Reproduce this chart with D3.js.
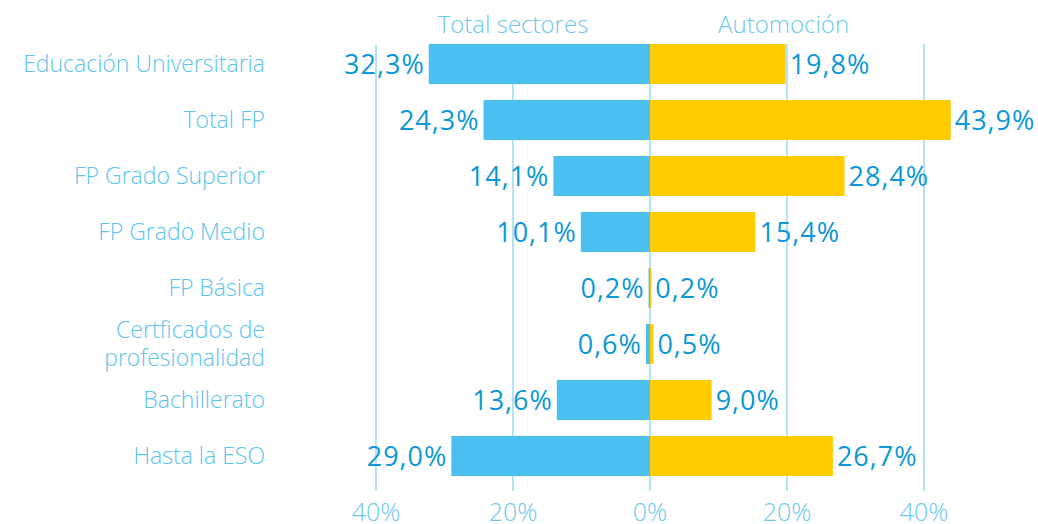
<!DOCTYPE html>
<html>
<head>
<meta charset="utf-8">
<script src="https://cdn.jsdelivr.net/npm/d3@7"></script>
<style>
  body { margin: 0; background: #fff; }
  svg { display: block; font-family: "Open Sans", "Noto Sans", sans-serif; }
</style>
</head>
<body>
<svg id="chart" width="1038" height="524"></svg>
<script>
var categories = ["Educación Universitaria", "Total FP", "FP Grado Superior", "FP Grado Medio",
    "FP Básica", "Certficados de\nprofesionalidad", "Bachillerato", "Hasta la ESO"];
var totalSectores = [32.3, 24.3, 14.1, 10.1, 0.2, 0.6, 13.6, 29.0];
var automocion = [19.8, 43.9, 28.4, 15.4, 0.2, 0.5, 9.0, 26.7];
var seriesNames = ["Total sectores", "Automoción"];
var tickValues = [-40, -20, 0, 20, 40];

var svg = d3.select("#chart");
var zeroX = 650;
var pxPer = 6.85;

// one scale for both halves: negative values go left
var x = d3.scaleLinear().domain([-40, 40]).range([zeroX - 40 * pxPer, zeroX + 40 * pxPer]);
var y = d3.scaleBand().domain(categories).range([36, 484]).paddingInner(16 / 56).paddingOuter(8 / 56);

var fmt = function(v) { return v.toFixed(1).replace(".", ",") + "%"; };

// grid lines
svg.append("g").selectAll("line").data(tickValues).enter().append("line")
    .attr("x1", function(d) { return x(d); }).attr("x2", function(d) { return x(d); })
    .attr("y1", 44).attr("y2", 491)
    .attr("stroke", "#8dd3f2").attr("stroke-width", 1.3);

// tick labels
svg.append("g").selectAll("text").data(tickValues).enter().append("text")
    .attr("x", function(d) { return x(d); }).attr("y", 521)
    .attr("text-anchor", "middle")
    .attr("fill", "#6cc9ef").attr("font-size", 25).attr("font-weight", 300)
    .text(function(d) { return Math.abs(d) + "%"; });

// series headers
svg.append("text").attr("x", x(-20)).attr("y", 33).attr("text-anchor", "middle")
    .attr("fill", "#6cc9ef").attr("font-size", 24).attr("font-weight", 300).text(seriesNames[0]);
svg.append("text").attr("x", x(19.5)).attr("y", 33).attr("text-anchor", "middle")
    .attr("fill", "#6cc9ef").attr("font-size", 24).attr("font-weight", 300).text(seriesNames[1]);

var rows = categories.map(function(c, i) { return { cat: c, left: totalSectores[i], right: automocion[i] }; });

var g = svg.append("g");
g.selectAll("rect.l").data(rows).enter().append("rect").attr("class", "l")
    .attr("x", function(d) { return x(-d.left); })
    .attr("y", function(d) { return y(d.cat); })
    .attr("width", function(d) { return x(0) - x(-d.left); })
    .attr("height", y.bandwidth())
    .attr("fill", "#4bbfef");
g.selectAll("rect.r").data(rows).enter().append("rect").attr("class", "r")
    .attr("x", x(0))
    .attr("y", function(d) { return y(d.cat); })
    .attr("width", function(d) { return x(d.right) - x(0); })
    .attr("height", y.bandwidth())
    .attr("fill", "#ffcc00");

// value labels
g.selectAll("text.l").data(rows).enter().append("text").attr("class", "l")
    .attr("x", function(d) { return x(-d.left) - 4; })
    .attr("y", function(d) { return y(d.cat) + y.bandwidth() / 2 + 10; })
    .attr("text-anchor", "end")
    .attr("fill", "#0c98d6").attr("font-size", 27).attr("font-weight", 500)
    .attr("letter-spacing", 1)
    .text(function(d) { return fmt(d.left); });
g.selectAll("text.r").data(rows).enter().append("text").attr("class", "r")
    .attr("x", function(d) { return x(d.right) + 4; })
    .attr("y", function(d) { return y(d.cat) + y.bandwidth() / 2 + 10; })
    .attr("text-anchor", "start")
    .attr("fill", "#0c98d6").attr("font-size", 27).attr("font-weight", 500)
    .attr("letter-spacing", 1)
    .text(function(d) { return fmt(d.right); });

// category labels
var cl = svg.append("g").selectAll("text").data(rows).enter().append("text")
    .attr("text-anchor", "end")
    .attr("fill", "#5cc4ee").attr("font-size", 23).attr("font-weight", 300)
    .attr("transform", function(d) { return "translate(265," + (y(d.cat) + y.bandwidth() / 2) + ")"; });
cl.each(function(d) {
    var lines = d.cat.split("\n");
    var t = d3.select(this);
    lines.forEach(function(line, i) {
        t.append("tspan").attr("x", 0)
            .attr("y", (i - (lines.length - 1) / 2) * 28 + 8)
            .text(line);
    });
});
</script>
</body>
</html>
